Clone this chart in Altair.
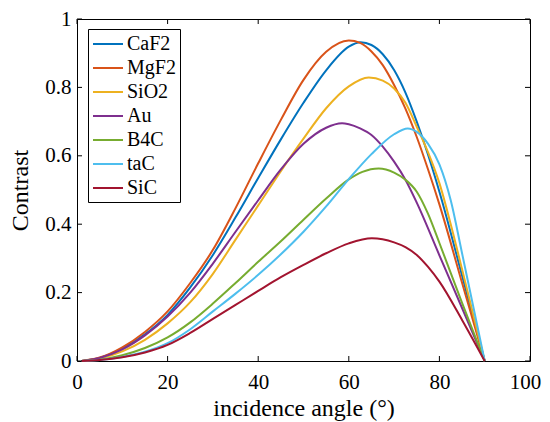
import altair as alt
import pandas as pd

NAMES = ["CaF2", "MgF2", "SiO2", "Au", "B4C", "taC", "SiC"]
COLORS = ["#0072BD", "#D95319", "#EDB120", "#7E2F8E", "#77AC30", "#4DBEEE", "#A2142F"]

caf2_angle = [1, 5, 10, 15, 20, 25, 30, 35, 40, 45, 50, 55, 60, 62.6, 65, 67.5, 70, 72.5, 75, 77.5, 80, 85, 90]
caf2_val = [0, 0.009, 0.036, 0.078, 0.135, 0.215, 0.31, 0.42, 0.535, 0.648, 0.755, 0.85, 0.919, 0.932, 0.924, 0.897, 0.851, 0.785, 0.70, 0.603, 0.495, 0.25, 0]

mgf2_angle = [1, 5, 10, 15, 20, 25, 30, 35, 40, 45, 50, 55, 60, 62.5, 65, 67.5, 70, 72.5, 75, 77.5, 80, 85, 90]
mgf2_val = [0, 0.01, 0.04, 0.085, 0.145, 0.228, 0.325, 0.447, 0.578, 0.705, 0.822, 0.904, 0.937, 0.93, 0.905, 0.865, 0.807, 0.738, 0.655, 0.56, 0.458, 0.229, 0]

sio2_angle = [1, 5, 10, 15, 20, 25, 30, 35, 40, 45, 50, 55, 60, 64.4, 67.5, 70, 72.5, 75, 77.5, 80, 82.5, 85, 90]
sio2_val = [0, 0.007, 0.028, 0.062, 0.11, 0.172, 0.255, 0.355, 0.455, 0.555, 0.65, 0.739, 0.803, 0.829, 0.82, 0.797, 0.755, 0.685, 0.61, 0.52, 0.40, 0.268, 0]

au_angle = [1, 5, 10, 15, 20, 25, 30, 35, 40, 45, 50, 55, 58.5, 60, 62.5, 65, 67.5, 70, 72.5, 75, 80, 85, 90]
au_val = [0, 0.009, 0.034, 0.075, 0.13, 0.2, 0.285, 0.378, 0.47, 0.56, 0.635, 0.682, 0.695, 0.692, 0.68, 0.661, 0.627, 0.583, 0.53, 0.463, 0.309, 0.155, 0]

b4c_angle = [1, 5, 10, 15, 20, 25, 30, 35, 40, 45, 50, 55, 60, 63, 66.6, 70, 72.5, 75, 77.5, 80, 85, 90]
b4c_val = [0, 0.004, 0.017, 0.038, 0.069, 0.113, 0.168, 0.228, 0.29, 0.35, 0.413, 0.475, 0.531, 0.553, 0.563, 0.551, 0.53, 0.495, 0.43, 0.345, 0.17, 0]

tac_angle = [1, 5, 10, 15, 20, 25, 30, 35, 40, 45, 50, 55, 60, 65, 70, 73, 75, 77.5, 80, 82.5, 85, 90]
tac_val = [0, 0.003, 0.012, 0.027, 0.052, 0.093, 0.145, 0.197, 0.252, 0.312, 0.378, 0.452, 0.532, 0.605, 0.663, 0.68, 0.67, 0.635, 0.575, 0.47, 0.315, 0]

sic_angle = [1, 5, 10, 15, 20, 25, 30, 35, 40, 45, 50, 55, 60, 65.1, 70, 72.5, 75, 77.5, 80, 85, 90]
sic_val = [0, 0.003, 0.011, 0.025, 0.047, 0.082, 0.123, 0.164, 0.205, 0.245, 0.281, 0.315, 0.344, 0.359, 0.347, 0.333, 0.31, 0.275, 0.232, 0.12, 0]

X_TICKS = [0, 20, 40, 60, 80, 100]
Y_TICKS = [0, 0.2, 0.4, 0.6, 0.8, 1.0]

series = [
    ("CaF2", caf2_angle, caf2_val),
    ("MgF2", mgf2_angle, mgf2_val),
    ("SiO2", sio2_angle, sio2_val),
    ("Au", au_angle, au_val),
    ("B4C", b4c_angle, b4c_val),
    ("taC", tac_angle, tac_val),
    ("SiC", sic_angle, sic_val),
]
rows = []
for i, (name, angs, vals) in enumerate(series):
    for a, v in zip(angs, vals):
        rows.append({"material": name, "angle": a, "contrast": v, "order": i})
df = pd.DataFrame(rows)

W, H = 453, 342
FONT = "Liberation Serif"
TL = 5

xscale = alt.Scale(domain=[0, 100], nice=False, zero=False)
yscale = alt.Scale(domain=[0, 1], nice=False, zero=False)
xaxis = alt.Axis(values=X_TICKS, title="incidence angle (°)", labelPadding=10,
                 titlePadding=4, labelFlush=False,
                 labelOffset={"condition": {"test": "datum.value == 100", "value": -5}, "value": 0})
yaxis = alt.Axis(values=Y_TICKS, title="Contrast", format=".1~f", labelPadding=6,
                 titlePadding=12, labelFlush=False)

lines = alt.Chart(df).mark_line(strokeWidth=2, interpolate="monotone").encode(
    x=alt.X("angle:Q", scale=xscale, axis=xaxis),
    y=alt.Y("contrast:Q", scale=yscale, axis=yaxis),
    color=alt.Color("material:N", scale=alt.Scale(domain=NAMES, range=COLORS),
                    legend=alt.Legend(title=None, orient="none", legendX=11, legendY=10)),
    detail="order:N",
)

xt = pd.DataFrame({"angle": X_TICKS})
yt = pd.DataFrame({"contrast": Y_TICKS})
tick_x_bottom = alt.Chart(xt).mark_rule(color="black", strokeWidth=1).encode(
    x=alt.X("angle:Q", scale=xscale, axis=xaxis), y=alt.value(H), y2=alt.value(H - TL))
tick_x_top = alt.Chart(xt).mark_rule(color="black", strokeWidth=1).encode(
    x=alt.X("angle:Q", scale=xscale, axis=xaxis), y=alt.value(0), y2=alt.value(TL))
tick_y_left = alt.Chart(yt).mark_rule(color="black", strokeWidth=1).encode(
    y=alt.Y("contrast:Q", scale=yscale, axis=yaxis), x=alt.value(0), x2=alt.value(TL))
tick_y_right = alt.Chart(yt).mark_rule(color="black", strokeWidth=1).encode(
    y=alt.Y("contrast:Q", scale=yscale, axis=yaxis), x=alt.value(W), x2=alt.value(W - TL))

chart = alt.layer(lines, tick_x_bottom, tick_x_top, tick_y_left, tick_y_right).properties(
    width=W, height=H,
    autosize=alt.AutoSizeParams(type="none"),
    padding={"left": 69, "top": 11, "right": 12, "bottom": 60},
).configure_view(
    stroke="black", strokeWidth=1
).configure_axis(
    labelFont=FONT, labelFontSize=21, labelColor="black",
    titleFont=FONT, titleFontSize=24, titleFontWeight="normal", titleColor="black",
    ticks=False, domain=False, grid=False,
).configure_legend(
    labelFont=FONT, labelFontSize=20, labelColor="black",
    symbolType="M-1.5,0H1.5", symbolSize=400, symbolStrokeWidth=2,
    strokeColor="black", fillColor="white", padding=4, rowPadding=3,
    labelOffset=8, symbolOffset=5, cornerRadius=0,
)

chart.save("out.html", embed_options={"renderer": "svg", "actions": False})
